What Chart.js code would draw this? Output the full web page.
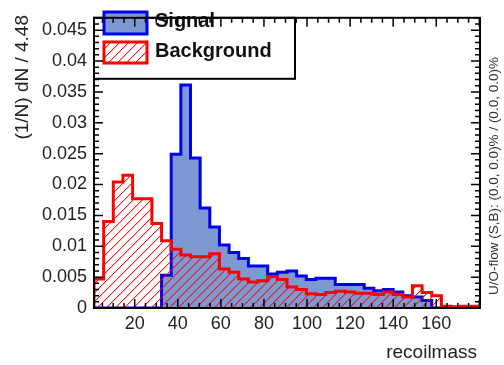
<!DOCTYPE html>
<html><head>
<meta charset="utf-8">
<script src="https://cdn.jsdelivr.net/npm/chart.js@4.4.1/dist/chart.umd.min.js"></script>
<style>html,body{margin:0;padding:0;background:#fff;overflow:hidden}canvas{display:block}</style>
</head><body>
<canvas id="c" width="504" height="365"></canvas>
<script>
// ---- data ----
const binWidth = 4.48;
const xMin = 1.1;
const nBins = 40;
const signal = [0,0,0,0,0,0,0,0.0053,0.0249,0.0361,0.0243,0.0162,0.0131,0.0102,0.0090,0.0080,0.0068,0.0068,0.0055,0.0058,0.0060,0.0052,0.0046,0.0048,0.0048,0.0038,0.0038,0.0038,0.0032,0.0028,0.0030,0.0026,0.0020,0.0018,0.0012,0,0,0,0,0];
const background = [0.0047,0.0140,0.0204,0.0215,0.0177,0.0177,0.0137,0.0109,0.0095,0.0086,0.0083,0.0083,0.0088,0.0063,0.0058,0.0047,0.0042,0.0044,0.0051,0.0046,0.0034,0.0030,0.0023,0.0022,0.0025,0.0027,0.0026,0.0024,0.0024,0.0022,0.0026,0.0022,0.0018,0.0036,0.0025,0.0020,0.0003,0.0002,0.0003,0.0003];
const xTickValues = [20,40,60,80,100,120,140,160];
const yTickValues = [0,0.005,0.01,0.015,0.02,0.025,0.03,0.035,0.04,0.045];
const seriesNames = ['Signal','Background'];
const xTitle = 'recoilmass';
const yTitle = '(1/N) dN / 4.48';
const flowText = 'U/O-flow (S,B): (0.0, 0.0)% / (0.0, 0.0)%';

// ---- build step points ----
function steps(vals){
  const pts=[{x:xMin,y:0}];
  vals.forEach((v,i)=>pts.push({x:xMin+i*binWidth,y:v}));
  pts.push({x:xMin+vals.length*binWidth,y:vals[vals.length-1]});
  pts.push({x:xMin+vals.length*binWidth,y:0});
  return pts;
}

const SIG_FILL='#7d99d1', SIG_LINE='#0000ee', BKG_LINE='#ff0000';
function hatch(){
  const N=9;
  const c=document.createElement('canvas'); c.width=N; c.height=N;
  const g=c.getContext('2d');
  const img=g.createImageData(N,N);
  for(let i=0;i<N;i++){
    const idx=((N-1-i)*N+i)*4;
    img.data[idx]=255; img.data[idx+1]=0; img.data[idx+2]=0; img.data[idx+3]=230;
    const j=(i+1)%N; const idx2=((N-1-i)*N+j)*4;
    img.data[idx2]=255; img.data[idx2+1]=0; img.data[idx2+2]=0; img.data[idx2+3]=70;
  }
  g.putImageData(img,0,0);
  return g.createPattern(c,'repeat');
}
const hatchPat = hatch();
const FONT = "'Liberation Sans', Arial, Helvetica, sans-serif";

const overlay = {
  id:'overlay',
  afterDatasetsDraw(chart){
    const ctx=chart.ctx, a=chart.chartArea, xs=chart.scales.x, ys=chart.scales.y;
    ctx.save();
    // legend
    const lx=a.left, ly=a.top, lw=201, lh=61;
    ctx.fillStyle='#fff'; ctx.fillRect(lx,ly,lw,lh);
    ctx.strokeStyle='#000'; ctx.lineWidth=2; ctx.strokeRect(lx,ly,lw,lh);
    // signal swatch
    ctx.fillStyle=SIG_FILL; ctx.fillRect(104,12,43,22);
    ctx.strokeStyle=SIG_LINE; ctx.lineWidth=3; ctx.strokeRect(104,12,43,22);
    // background swatch
    ctx.fillStyle='#fff'; ctx.fillRect(104,42,43,21);
    ctx.fillStyle=hatchPat; ctx.fillRect(104,42,43,21);
    ctx.strokeStyle=BKG_LINE; ctx.lineWidth=3; ctx.strokeRect(104,42,43,21);
    ctx.fillStyle='#111'; ctx.font='bold 20px '+FONT; ctx.textAlign='left'; ctx.textBaseline='alphabetic';
    ctx.fillText(seriesNames[0],155,27);
    ctx.fillText(seriesNames[1],155,57);
    // frame
    ctx.strokeStyle='#000'; ctx.lineWidth=2;
    ctx.strokeRect(a.left,a.top,a.right-a.left,a.bottom-a.top);
    // ticks
    ctx.lineWidth=1.5;
    ctx.beginPath();
    for(let k=0;k<=47;k++){
      const v=k*0.001; if(v>ys.max) break;
      const py=ys.getPixelForValue(v);
      const L=(k%5===0)?9:5;
      ctx.moveTo(a.left,py); ctx.lineTo(a.left+L,py);
      ctx.moveTo(a.right,py); ctx.lineTo(a.right-L,py);
    }
    for(let v=5; v<xs.max; v+=5){
      const px=xs.getPixelForValue(v);
      const L=(v%20===0)?9:5;
      ctx.moveTo(px,a.bottom); ctx.lineTo(px,a.bottom-L);
      ctx.moveTo(px,a.top); ctx.lineTo(px,a.top+L);
    }
    ctx.stroke();
    // titles
    ctx.fillStyle='#222'; ctx.font='19px '+FONT;
    ctx.textAlign='right'; ctx.textBaseline='alphabetic';
    ctx.fillText(xTitle,477,358);
    ctx.save(); ctx.translate(28,15); ctx.rotate(-Math.PI/2);
    ctx.textAlign='right'; ctx.fillText(yTitle,0,0); ctx.restore();
    ctx.save(); ctx.translate(498,176); ctx.rotate(-Math.PI/2);
    ctx.fillStyle='#333'; ctx.font='13.5px '+FONT; ctx.textAlign='center'; ctx.fillText(flowText,0,0); ctx.restore();
    ctx.restore();
  }
};

new Chart(document.getElementById('c'),{
  type:'line',
  data:{datasets:[
    {label:seriesNames[1],data:steps(background),stepped:true,borderColor:BKG_LINE,borderWidth:3,backgroundColor:hatchPat,fill:'origin',pointRadius:0,order:0},
    {label:seriesNames[0],data:steps(signal),stepped:true,borderColor:SIG_LINE,borderWidth:3,backgroundColor:SIG_FILL,fill:'origin',pointRadius:0,order:1}
  ]},
  options:{
    responsive:false,animation:false,
    layout:{padding:{left:0,right:24,top:7,bottom:0}},
    plugins:{legend:{display:false},tooltip:{enabled:false}},
    scales:{
      x:{type:'linear',min:xMin,max:xMin+nBins*binWidth,
        grid:{display:false,drawTicks:false},border:{display:false},
        afterBuildTicks(s){s.ticks=xTickValues.map(v=>({value:v}));},
        afterFit(s){s.height=57;},
        ticks:{padding:5,color:'#222',font:{family:FONT,size:18},maxRotation:0,autoSkip:false,callback:v=>String(v)}},
      y:{type:'linear',min:0,max:0.047,
        grid:{display:false,drawTicks:false},border:{display:false},
        afterBuildTicks(s){s.ticks=yTickValues.map(v=>({value:v}));},
        afterFit(s){s.width=94;},
        ticks:{padding:7,color:'#222',font:{family:FONT,size:18},autoSkip:false,callback:v=>String(+v.toFixed(3))}}
    }
  },
  plugins:[overlay]
});
</script>
</body></html>
